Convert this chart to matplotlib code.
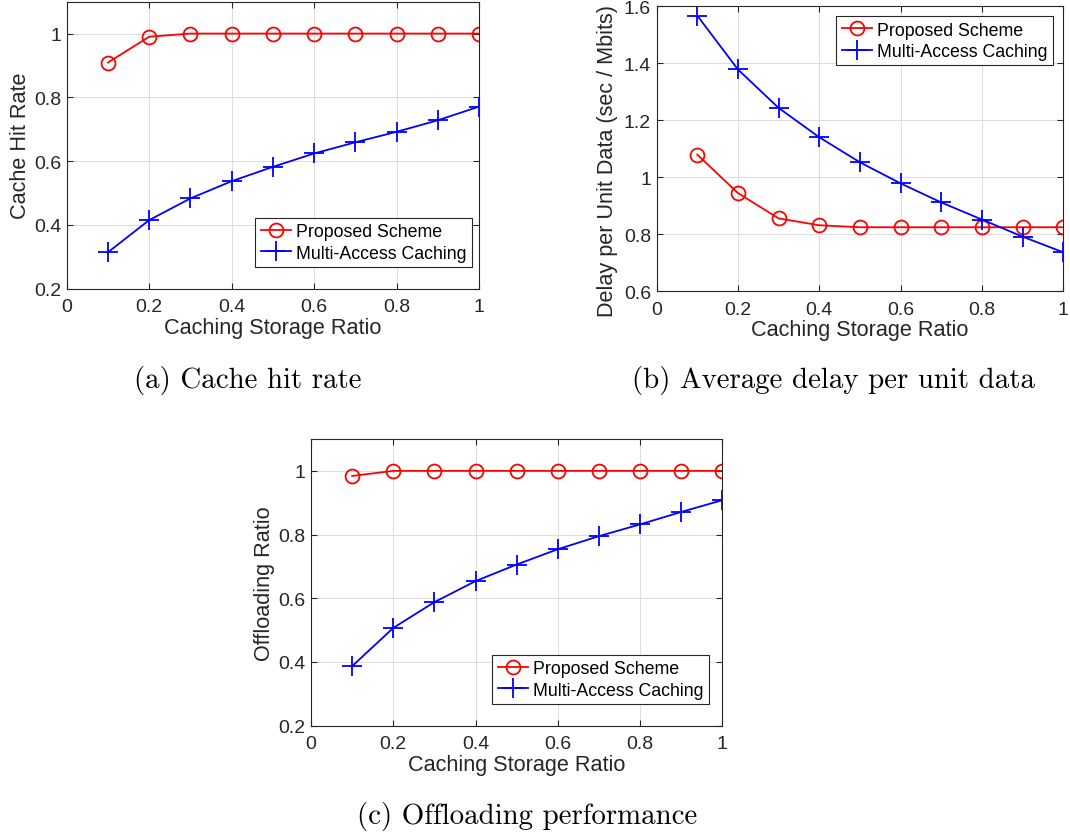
import matplotlib
matplotlib.use("Agg")
import matplotlib.pyplot as plt
import numpy as np

plt.rcParams["font.family"] = ["Liberation Sans", "DejaVu Sans"]

ratio = [0.1, 0.2, 0.3, 0.4, 0.5, 0.6, 0.7, 0.8, 0.9, 1.0]
series_names = ["Proposed Scheme", "Multi-Access Caching"]

hit_proposed = [0.909, 0.990, 1.0, 1.0, 1.0, 1.0, 1.0, 1.0, 1.0, 1.0]
hit_mac = [0.314, 0.415, 0.483, 0.537, 0.582, 0.624, 0.659, 0.692, 0.728, 0.771]

delay_proposed = [1.079, 0.944, 0.855, 0.831, 0.824, 0.824, 0.824, 0.824, 0.824, 0.824]
delay_mac = [1.567, 1.378, 1.243, 1.140, 1.052, 0.978, 0.911, 0.851, 0.791, 0.736]

off_proposed = [0.984, 1.0, 1.0, 1.0, 1.0, 1.0, 1.0, 1.0, 1.0, 1.0]
off_mac = [0.387, 0.507, 0.588, 0.654, 0.706, 0.754, 0.795, 0.832, 0.871, 0.908]

TXT = "#262626"


def panel(ax, red, blue, ylim, yticks, ylabel, leg_loc, leg_anchor):
    ax.plot(ratio, red, "-o", color="red", mfc="none", ms=10, mew=1.3, lw=1.3,
            label=series_names[0])
    ax.plot(ratio, blue, "-+", color="blue", ms=14, mew=1.3, lw=1.3,
            label=series_names[1])
    ax.set_xlim(0, 1)
    ax.set_ylim(*ylim)
    ax.set_xticks(np.arange(0, 1.01, 0.2))
    ax.set_xticklabels(["0", "0.2", "0.4", "0.6", "0.8", "1"])
    ax.set_yticks(yticks)
    ax.set_yticklabels([f"{t:g}" for t in yticks])
    ax.grid(True, color="#dcdcdc", lw=0.7)
    ax.set_axisbelow(True)
    ax.tick_params(direction="in", top=True, right=True, length=4,
                   labelsize=14, colors=TXT)
    ax.tick_params(axis="x", pad=7)
    ax.tick_params(axis="y", pad=4)
    for s in ax.spines.values():
        s.set_color(TXT)
        s.set_linewidth(0.8)
    ax.set_xlabel("Caching Storage Ratio", fontsize=15.6, color=TXT, labelpad=1)
    ax.set_ylabel(ylabel, fontsize=15.6, color=TXT, labelpad=2)
    leg = ax.legend(loc=leg_loc, bbox_to_anchor=leg_anchor, borderaxespad=0,
                    fontsize=12.8, fancybox=False, framealpha=1, edgecolor=TXT,
                    handlelength=1.7, handletextpad=0.3, borderpad=0.3,
                    labelspacing=0.25)
    leg.get_frame().set_linewidth(0.8)
    for t in leg.get_texts():
        t.set_color("black")


fig = plt.figure(figsize=(10.7, 8.37), dpi=100)

ax_a = fig.add_axes([0.0623, 0.6539, 0.3854, 0.3429])
panel(ax_a, hit_proposed, hit_mac, (0.2, 1.1), [0.2, 0.4, 0.6, 0.8, 1.0],
      "Cache Hit Rate", "lower right", (0.983, 0.076))

ax_b = fig.add_axes([0.6137, 0.6511, 0.3800, 0.3402])
panel(ax_b, delay_proposed, delay_mac, (0.6, 1.6),
      [0.6, 0.8, 1.0, 1.2, 1.4, 1.6], "Delay per Unit Data (sec / Mbits)",
      "upper right", (0.975, 0.965))
# long label: nudge it down so it stays inside the figure
ax_b.yaxis.set_label_coords(-0.095, 0.46)

ax_c = fig.add_axes([0.2907, 0.1318, 0.3844, 0.3425])
panel(ax_c, off_proposed, off_mac, (0.2, 1.1), [0.2, 0.4, 0.6, 0.8, 1.0],
      "Offloading Ratio", "lower right", (0.968, 0.076))

cap = dict(fontsize=20.8, family="cmr10", ha="center", va="center", color="black")
fig.text(248 / 1070, 1 - 381 / 837, "(a) Cache hit rate", **cap)
fig.text(833 / 1070, 1 - 381 / 837, "(b) Average delay per unit data", **cap)
fig.text(527 / 1070, 1 - 817 / 837, "(c) Offloading performance", **cap)

fig.savefig("out.png", dpi=100)
